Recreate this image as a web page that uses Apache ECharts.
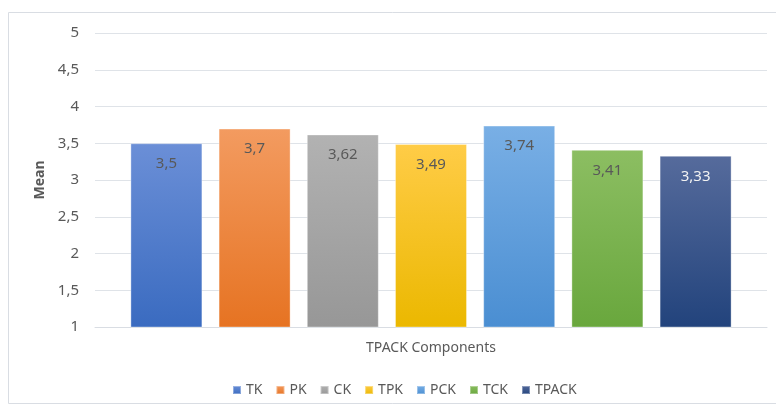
<!DOCTYPE html>
<html>
<head>
<meta charset="utf-8">
<script src="https://cdn.jsdelivr.net/npm/echarts@6/dist/echarts.min.js"></script>
<style>
html,body{margin:0;padding:0;background:#fff;}
#chart{width:776px;height:406px;}
</style>
</head>
<body>
<div id="chart"></div>
<script>
const categories = ['TK', 'PK', 'CK', 'TPK', 'PCK', 'TCK', 'TPACK'];
const values = [3.5, 3.7, 3.62, 3.49, 3.74, 3.41, 3.33];
const yTicks = [1, 1.5, 2, 2.5, 3, 3.5, 4, 4.5, 5];
const topColors = ['#6b8fd7', '#f39b60', '#b2b2b2', '#ffcc47', '#79afe5', '#8cbe62', '#566b9c'];
const bottomColors = ['#3a6bc0', '#e67322', '#979797', '#ebb800', '#4a8ed2', '#69a73d', '#22437c'];
const labelColors = ['#595959', '#595959', '#595959', '#595959', '#595959', '#595959', '#f2f2f2'];

const comma = v => String(v).replace('.', ',');

const chart = echarts.init(document.getElementById('chart'), null, {renderer: 'canvas'});
const font = 'Noto Sans';

const series = categories.map((name, i) => ({
  name: name,
  type: 'bar',
  data: [values[i]],
  barWidth: 72,
  barGap: '22.5%',
  itemStyle: {
    color: new echarts.graphic.LinearGradient(0, 0, 0, 1, [
      {offset: 0, color: topColors[i]},
      {offset: 1, color: bottomColors[i]}
    ]),
    borderColor: 'rgba(255,255,255,0.35)',
    borderWidth: 1
  },
  label: {
    show: true,
    position: 'insideTop',
    distance: 13,
    formatter: p => comma(p.value),
    color: labelColors[i],
    fontFamily: font,
    fontSize: 15
  },
  emphasis: {disabled: true}
}));

chart.setOption({
  animation: false,
  color: topColors,
  graphic: [{
    type: 'rect',
    shape: {x: 8.5, y: 12.5, width: 800, height: 391},
    style: {fill: 'none', stroke: '#d9dde3', lineWidth: 1},
    silent: true,
    z: -10
  }],
  grid: {left: 95, right: 9, top: 33, bottom: 79},
  legend: {
    data: categories,
    left: 227,
    top: 378,
    itemWidth: 8,
    itemHeight: 8,
    itemGap: 13,
    icon: 'rect',
    textStyle: {color: '#595959', fontFamily: font, fontSize: 14}
  },
  xAxis: {
    type: 'category',
    data: [''],
    name: 'TPACK Components',
    nameLocation: 'middle',
    nameGap: 14,
    nameTextStyle: {color: '#595959', fontFamily: font, fontSize: 14},
    axisLine: {lineStyle: {color: '#d9dde3'}},
    axisTick: {show: false},
    axisLabel: {show: false}
  },
  yAxis: {
    type: 'value',
    min: yTicks[0],
    max: yTicks[yTicks.length - 1],
    interval: 0.5,
    name: 'Mean',
    nameLocation: 'middle',
    nameGap: 44,
    nameRotate: 90,
    nameTextStyle: {color: '#595959', fontFamily: font, fontSize: 14, fontWeight: 'bold'},
    axisLine: {show: false},
    axisTick: {show: false},
    axisLabel: {
      margin: 16,
      color: '#595959',
      fontFamily: font,
      fontSize: 15,
      formatter: v => comma(v)
    },
    splitLine: {lineStyle: {color: '#dfe3e8', width: 1}}
  },
  series: series
});
</script>
</body>
</html>
